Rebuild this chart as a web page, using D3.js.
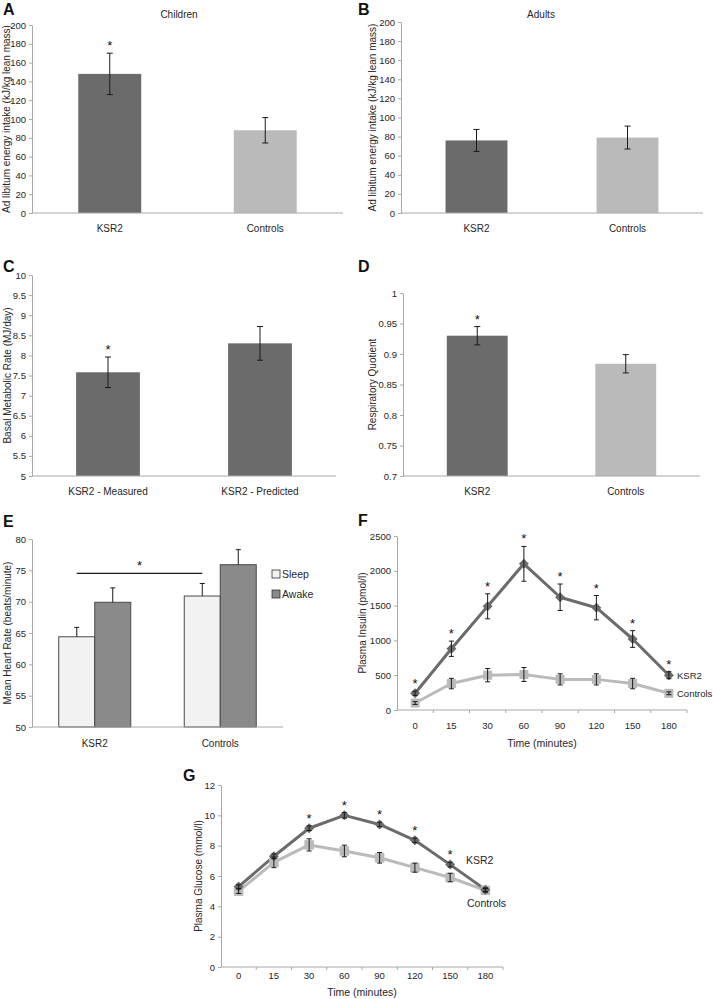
<!DOCTYPE html>
<html>
<head>
<meta charset="utf-8">
<script src="https://cdn.jsdelivr.net/npm/d3@7"></script>
<style>
  body { margin: 0; background: #fff; }
  svg { display: block; }
</style>
</head>
<body>
<script>
// ---------------- DATA ----------------
const barCategories = ["KSR2", "Controls"];
const childrenMean = [148, 88];
const childrenErr = [22, 13.5];
const childrenSig = [true, false];

const adultsMean = [76, 79];
const adultsErr = [11.5, 12];
const adultsSig = [false, false];

const bmrCategories = ["KSR2 - Measured", "KSR2 - Predicted"];
const bmrMean = [7.58, 8.3];
const bmrErr = [0.38, 0.42];
const bmrSig = [true, false];

const rqMean = [0.93, 0.884];
const rqErr = [0.015, 0.015];
const rqSig = [true, false];

const hrGroups = ["KSR2", "Controls"];
const hrSeries = ["Sleep", "Awake"];
const hrSleep = [64.4, 70.9];
const hrSleepErr = [1.5, 2.0];
const hrAwake = [69.9, 75.9];
const hrAwakeErr = [2.3, 2.4];
const hrBracketValue = 74.5;

const timeLabels = ["0", "15", "30", "60", "90", "120", "150", "180"];
const insulinKSR2 = [240, 880, 1490, 2100, 1620, 1470, 1020, 500];
const insulinKSR2Err = [30, 110, 180, 250, 190, 175, 120, 50];
const insulinCtrl = [100, 380, 500, 510, 440, 440, 380, 240];
const insulinCtrlErr = [20, 75, 95, 100, 80, 80, 75, 20];
const insulinSig = [true, true, true, true, true, true, true, true];

const glucoseKSR2 = [5.3, 7.3, 9.15, 10.0, 9.4, 8.35, 6.75, 5.1];
const glucoseKSR2Err = [0.12, 0.15, 0.15, 0.18, 0.15, 0.15, 0.15, 0.12];
const glucoseCtrl = [5.0, 6.9, 8.05, 7.65, 7.2, 6.55, 5.9, 5.05];
const glucoseCtrlErr = [0.15, 0.35, 0.4, 0.38, 0.35, 0.3, 0.28, 0.12];
const glucoseSig = [false, false, true, true, true, true, true, false];

const childTicks = [0, 20, 40, 60, 80, 100, 120, 140, 160, 180, 200];
const bmrTicks = [5, 5.5, 6, 6.5, 7, 7.5, 8, 8.5, 9, 9.5, 10];
const rqTicks = [0.7, 0.75, 0.8, 0.85, 0.9, 0.95, 1];
const hrTicks = [50, 55, 60, 65, 70, 75, 80];
const insulinTicks = [0, 500, 1000, 1500, 2000, 2500];
const glucoseTicks = [0, 2, 4, 6, 8, 10, 12];

// ---------------- STYLE ----------------
const FONT = "'Liberation Sans', Arial, Helvetica, sans-serif";
const AXIS_COLOR = "#a8a8a8";
const TEXT_COLOR = "#262626";
const DARK = "#6b6b6b";
const LIGHT = "#bababa";

const svg = d3.select("body").append("svg").attr("width", 713).attr("height", 999);

function txt(x, y, s, size, anchor, weight) {
  return svg.append("text").attr("x", x).attr("y", y).text(s)
    .attr("text-anchor", anchor || "middle")
    .attr("fill", TEXT_COLOR)
    .style("font-family", FONT).style("font-size", size + "px")
    .style("font-weight", weight || "normal");
}

function letter(x, y, s) {
  txt(x, y, s, 16, "start", "bold").attr("fill", "#111");
}

function yLabel(x, yc, s) {
  svg.append("text").attr("transform", `translate(${x},${yc}) rotate(-90)`)
    .attr("text-anchor", "middle").attr("dominant-baseline", "central")
    .attr("fill", TEXT_COLOR).style("font-family", FONT).style("font-size", "10px").text(s);
}

function addYAxis(scale, x, ticks, fmt) {
  const g = svg.append("g").attr("transform", `translate(${x},0)`)
    .call(d3.axisLeft(scale).tickValues(ticks).tickFormat(fmt).tickSize(3).tickSizeOuter(0).tickPadding(3));
  g.select(".domain").attr("stroke", AXIS_COLOR);
  g.selectAll(".tick line").attr("stroke", AXIS_COLOR);
  g.selectAll(".tick text").attr("fill", TEXT_COLOR).style("font-family", FONT).style("font-size", "9.5px");
  return g;
}

function xAxisLine(x0, x1, y) {
  svg.append("line").attr("x1", x0).attr("x2", x1).attr("y1", y).attr("y2", y)
    .attr("stroke", AXIS_COLOR).attr("stroke-width", 1);
}

function errBar(cx, yLow, yHigh, cap, lowerToo) {
  const g = svg.append("g").attr("stroke", "#1a1a1a").attr("stroke-width", 1);
  g.append("line").attr("x1", cx).attr("x2", cx).attr("y1", yLow).attr("y2", yHigh);
  g.append("line").attr("x1", cx - cap).attr("x2", cx + cap).attr("y1", yHigh).attr("y2", yHigh);
  if (lowerToo) g.append("line").attr("x1", cx - cap).attr("x2", cx + cap).attr("y1", yLow).attr("y2", yLow);
}

function star(x, y) {
  txt(x, y, "*", 13, "middle").attr("fill", "#111");
}

// ---------------- BAR PANELS ----------------
function barPanel(o) {
  const y = d3.scaleLinear().domain(o.domain).range([o.bottom, o.top]);
  const x = d3.scalePoint().domain(o.cats).range([o.left, o.right]).padding(0.5);
  const bw = x.step() * o.barFrac;
  addYAxis(y, o.left, o.ticks, o.fmt);
  o.cats.forEach((c, i) => {
    svg.append("rect").attr("x", x(c) - bw / 2).attr("y", y(o.means[i]))
      .attr("width", bw).attr("height", y(o.domain[0]) - y(o.means[i]))
      .attr("fill", o.colors[i]);
  });
  xAxisLine(o.left, o.right, o.bottom);
  o.cats.forEach((c, i) => {
    errBar(x(c), y(o.means[i] - o.errs[i]), y(o.means[i] + o.errs[i]), 3, true);
    if (o.sig[i]) star(x(c), y(o.means[i] + o.errs[i]) - 3);
    txt(x(c), o.bottom + 19, c, 10);
  });
  yLabel(o.ylabelX, (o.top + o.bottom) / 2, o.ylabel);
}

const intFmt = d3.format("d");
const trimFmt = d => String(+d.toFixed(2));

// A
letter(3, 15, "A");
txt(179, 18, "Children", 10);
barPanel({
  left: 32, right: 343, top: 25, bottom: 213, domain: [0, 200], ticks: childTicks, fmt: intFmt,
  cats: barCategories, means: childrenMean, errs: childrenErr, sig: childrenSig,
  colors: [DARK, LIGHT], barFrac: 0.405,
  ylabel: "Ad libitum energy intake (kJ/kg lean mass)", ylabelX: 6
});

// B
letter(358, 15, "B");
txt(541, 18, "Adults", 10);
barPanel({
  left: 401, right: 703, top: 22, bottom: 213, domain: [0, 200], ticks: childTicks, fmt: intFmt,
  cats: barCategories, means: adultsMean, errs: adultsErr, sig: adultsSig,
  colors: [DARK, LIGHT], barFrac: 0.41,
  ylabel: "Ad libitum energy intake (kJ/kg lean mass)", ylabelX: 372
});

// C
letter(3, 272, "C");
barPanel({
  left: 32, right: 336, top: 275, bottom: 476, domain: [5, 10], ticks: bmrTicks, fmt: trimFmt,
  cats: bmrCategories, means: bmrMean, errs: bmrErr, sig: bmrSig,
  colors: [DARK, DARK], barFrac: 0.42,
  ylabel: "Basal Metabolic Rate (MJ/day)", ylabelX: 7
});

// D
letter(358, 272, "D");
barPanel({
  left: 403, right: 700, top: 293, bottom: 476, domain: [0.7, 1], ticks: rqTicks, fmt: trimFmt,
  cats: barCategories, means: rqMean, errs: rqErr, sig: rqSig,
  colors: [DARK, LIGHT], barFrac: 0.41,
  ylabel: "Respiratory Quotient", ylabelX: 372
});

// ---------------- E: grouped bars ----------------
(function () {
  const left = 32, right = 283, top = 539, bottom = 727;
  letter(3, 527, "E");
  const y = d3.scaleLinear().domain([50, 80]).range([bottom, top]);
  const xg = d3.scalePoint().domain(hrGroups).range([left, right]).padding(0.5);
  const xs = d3.scaleBand().domain(hrSeries).range([-36, 36]);
  const fills = { Sleep: "#f2f2f2", Awake: "#8a8a8a" };
  const vals = { Sleep: hrSleep, Awake: hrAwake };
  const errs = { Sleep: hrSleepErr, Awake: hrAwakeErr };
  addYAxis(y, left, hrTicks, intFmt);
  hrGroups.forEach((gname, i) => {
    hrSeries.forEach(s => {
      const v = vals[s][i];
      svg.append("rect").attr("x", xg(gname) + xs(s)).attr("y", y(v))
        .attr("width", xs.bandwidth()).attr("height", bottom - y(v))
        .attr("fill", fills[s]).attr("stroke", "#4a4a4a").attr("stroke-width", 1);
    });
  });
  xAxisLine(left, right, bottom);
  hrGroups.forEach((gname, i) => {
    hrSeries.forEach(s => {
      const cx = xg(gname) + xs(s) + xs.bandwidth() / 2;
      const v = vals[s][i];
      errBar(cx, y(v), y(v + errs[s][i]), 2.5, false);
    });
    txt(xg(gname), bottom + 20, gname, 10);
  });
  // significance bracket between sleep bars
  const bx1 = xg(hrGroups[0]) + xs("Sleep") + xs.bandwidth() / 2;
  const bx2 = xg(hrGroups[1]) + xs("Sleep") + xs.bandwidth() / 2;
  svg.append("line").attr("x1", bx1).attr("x2", bx2)
    .attr("y1", y(hrBracketValue)).attr("y2", y(hrBracketValue))
    .attr("stroke", "#1a1a1a").attr("stroke-width", 1.2);
  star((bx1 + bx2) / 2, y(hrBracketValue) - 3);
  // legend
  hrSeries.forEach((s, i) => {
    const ly = 574 + i * 20;
    svg.append("rect").attr("x", 272).attr("y", ly - 4).attr("width", 8).attr("height", 8)
      .attr("fill", fills[s]).attr("stroke", "#333").attr("stroke-width", 0.8);
    txt(282, ly + 4, s, 10.5, "start");
  });
  yLabel(7, (top + bottom) / 2, "Mean Heart Rate (beats/minute)");
})();

// ---------------- LINE PANELS ----------------
function linePanel(o) {
  const y = d3.scaleLinear().domain(o.domain).range([o.bottom, o.top]);
  const x = d3.scaleBand().domain(timeLabels).range([o.left, o.right]);
  const cx = d => x(d) + x.bandwidth() / 2;
  addYAxis(y, o.left, o.ticks, intFmt);
  xAxisLine(o.left, o.right, o.bottom);
  timeLabels.forEach(t => {
    const bx = x(t) + x.bandwidth();
    svg.append("line").attr("x1", bx).attr("x2", bx).attr("y1", o.bottom).attr("y2", o.bottom + 3)
      .attr("stroke", AXIS_COLOR);
    txt(cx(t), o.bottom + o.tickDy, t, 9.5);
  });
  txt((o.left + o.right) / 2, o.titleY, "Time (minutes)", 10.5);
  yLabel(o.ylabelX, (o.top + o.bottom) / 2, o.ylabel);

  const series = [
    { vals: o.ctrl, errs: o.ctrlErr, color: LIGHT, rot: 0, size: o.sqSize },
    { vals: o.ksr, errs: o.ksrErr, color: DARK, rot: 45, size: o.dmSize }
  ];
  const line = d3.line().x((d, i) => cx(timeLabels[i])).y(d => y(d));
  series.forEach(s => {
    svg.append("path").datum(s.vals).attr("d", line)
      .attr("fill", "none").attr("stroke", s.color).attr("stroke-width", 3).attr("stroke-linejoin", "round");
  });
  series.forEach(s => {
    s.vals.forEach((v, i) => {
      svg.append("path").attr("d", d3.symbol(d3.symbolSquare, s.size)())
        .attr("transform", `translate(${cx(timeLabels[i])},${y(v)}) rotate(${s.rot})`).attr("fill", s.color);
    });
  });
  series.forEach(s => {
    s.vals.forEach((v, i) => {
      errBar(cx(timeLabels[i]), y(v - s.errs[i]), y(v + s.errs[i]), 2.5, true);
    });
  });
  o.ksr.forEach((v, i) => {
    if (o.sig[i]) star(cx(timeLabels[i]), y(v + o.ksrErr[i]) - 3);
  });
  txt(o.ksrLabel[0], o.ksrLabel[1], "KSR2", o.labelSize, "start");
  txt(o.ctrlLabel[0], o.ctrlLabel[1], "Controls", o.labelSize, "start");
}

letter(358, 526, "F");
linePanel({
  left: 397, right: 687, top: 536, bottom: 710, domain: [0, 2500], ticks: insulinTicks,
  ksr: insulinKSR2, ksrErr: insulinKSR2Err, ctrl: insulinCtrl, ctrlErr: insulinCtrlErr, sig: insulinSig,
  tickDy: 19, titleY: 747, ylabel: "Plasma Insulin (pmol/l)", ylabelX: 362,
  ksrLabel: [677, 679], ctrlLabel: [677, 697], sqSize: 81, dmSize: 50, labelSize: 9.5
});

letter(183, 781, "G");
linePanel({
  left: 221, right: 503, top: 785, bottom: 967, domain: [0, 12], ticks: glucoseTicks,
  ksr: glucoseKSR2, ksrErr: glucoseKSR2Err, ctrl: glucoseCtrl, ctrlErr: glucoseCtrlErr, sig: glucoseSig,
  tickDy: 12, titleY: 996, ylabel: "Plasma Glucose (mmol/l)", ylabelX: 198,
  ksrLabel: [466, 864], ctrlLabel: [467, 907], sqSize: 90, dmSize: 50, labelSize: 10.5
});
</script>
</body>
</html>
